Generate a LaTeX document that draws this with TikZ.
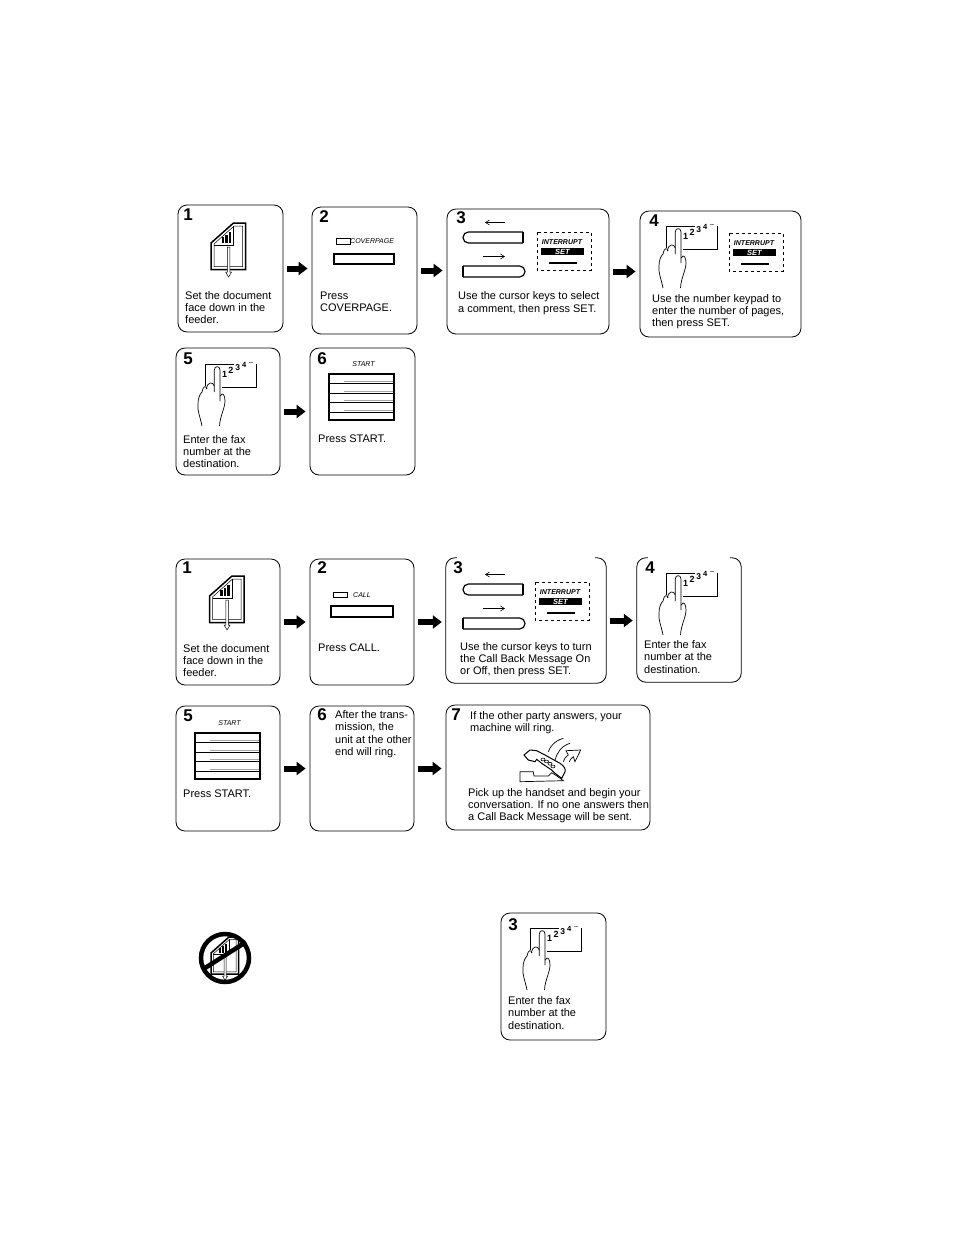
\documentclass[tikz,border=0pt]{standalone}
\usepackage{fontspec}
\setmainfont{Liberation Sans}
\usetikzlibrary{arrows.meta, calc}

\tikzset{
	stepbox/.style = {draw, line width = 0.8pt, rounded corners = 9pt, inner sep = 0pt},
	openbox/.style = {inner sep = 0pt},
	stepnum/.style = {font = \fontsize{17}{17}\selectfont\bfseries, inner sep = 0pt},
	steptext/.style = {font = \fontsize{11}{12.3}\selectfont, align = left, anchor = west, inner sep = 0pt},
	keylabel/.style = {font = \fontsize{7}{7}\selectfont\itshape, inner sep = 0pt},
	padnum/.style = {inner sep = 0pt},
	flowarrow/.style = {-{Triangle[length = 9pt, width = 13pt]}, line width = 6pt, shorten < = 4pt, shorten > = 4pt},
	thinarrow/.style = {-{Straight Barb[length = 4pt, width = 5pt]}, line width = 0.6pt},
	docicon/.pic = {
		\draw[line width = 1.5pt, fill = white] (0, 20) -- (22.5, 0) -- (34.5, 0) -- (34.5, 46.5) -- (0, 46.5) -- cycle;
		\draw[line width = 0.5pt] (3, 21) -- (23, 3) -- (31.5, 3) -- (31.5, 43.5) -- (3, 43.5) -- cycle;
		\draw[line width = 0.5pt] (3, 22) -- (22.5, 22) -- (22.5, 3);
		\foreach \x/\y in {10.5/14, 14/11.5, 17.5/9} {
				\fill (\x, \y) rectangle ++(2.6, 19.5 - \y);
			}
		\draw[line width = 0.5pt, fill = white] (16.4, 24) -- (18.8, 24) -- (18.8, 49) -- (20.6, 49) -- (17.6, 54) -- (14.6, 49) -- (16.4, 49) -- cycle;
	},
	handpad/.pic = {
		\draw[line width = 0.7pt] (0, 22) -- (0, 0) -- (29, 0);
		\draw[line width = 0.7pt] (51, 0) -- (51, 23) -- (17, 23);
		\draw[line width = 0.7pt] (-3, 62) .. controls (-5, 52) and (-8, 46) .. (-7, 40) .. controls (-7, 34) and (-5, 30) .. (-3, 28) .. controls (-2, 22) and (1, 21) .. (2, 25);
		\draw[line width = 0.7pt] (1.5, 25) .. controls (2, 18) and (8, 17) .. (9.3, 22);
		\draw[line width = 0.7pt, fill = white] (9.3, 28) -- (9.3, 6) .. controls (9.3, 1.5) and (15, 1.5) .. (15, 6) -- (15, 37);
		\draw[line width = 0.7pt] (15, 32) .. controls (18, 27) and (20, 32) .. (20, 37) .. controls (20, 44) and (15, 52) .. (14.5, 62);
		\node[padnum, font = \fontsize{9}{9}\selectfont\bfseries] (one) at (19.7, 10) {1};
		\node[padnum, font = \fontsize{9}{9}\selectfont\bfseries] (two) at (26, 6.5) {2};
		\node[padnum, font = \fontsize{8.5}{8}\selectfont\bfseries] (three) at (32.7, 3.3) {3};
		\node[padnum, font = \fontsize{7.5}{7}\selectfont\bfseries] (four) at (39.3, 1.2) {4};
		\node[padnum, font = \fontsize{7}{6}\selectfont\bfseries] (more) at (46, -1) {..};
	},
	setpanel/.pic = {
		\draw[dashed, line width = 0.7pt] (0, 0) rectangle (54, 38);
		\node[keylabel, font = \fontsize{7}{7}\selectfont\itshape\bfseries] (interrupt) at (25, 10) {INTERRUPT};
		\node[keylabel, font = \fontsize{7.5}{7}\selectfont\itshape\bfseries, text = white, fill = black, minimum width = 43pt, minimum height = 7.5pt] (setkey) at (25.5, 19.5) {SET};
		\fill (12, 29.5) rectangle (40, 32);
	},
	cursorkeys/.pic = {
		\draw[line width = 1.2pt, rounded corners = 5.4pt] (60, 0) -- (0, 0) -- (0, 11) -- (60, 11);
		\draw[line width = 1.2pt] (60, 0) -- (60, 11);
		\draw[line width = 1.2pt, rounded corners = 5.4pt] (0, 34) -- (62, 34) -- (62, 45) -- (0, 45);
		\draw[line width = 1.2pt] (0, 34) -- (0, 45);
		\draw[thinarrow] (42, -9.5) -- (22, -9.5);
		\draw[thinarrow] (20, 24.5) -- (42, 24.5);
	},
	startkey/.pic = {
		\node[keylabel] (startname) at (34.5, -10) {START};
		\foreach \y in {9, 19, 28, 38} {
				\draw[gray!70, line width = 1pt] (15, \y - 1.7) -- (65, \y - 1.7);
				\draw[line width = 0.6pt] (0, \y) -- (65, \y);
			}
		\draw[line width = 1.5pt] (0, 0) rectangle (65, 46);
	},
	handset/.pic = {
		\draw[line width = 0.7pt] (0, 36.7) -- (13.3, 36.7) -- (14, 41) -- (28.3, 41) -- (31.7, 37.7) -- (38, 41.7) -- (43.3, 45.7) -- (0, 46.7) -- cycle;
		\draw[line width = 1pt, fill = white] (4, 20) -- (10, 15) -- (16.7, 15.7) -- (25, 20) -- (40, 28.3) .. controls (44, 31) and (46, 34) .. (45, 36.7) -- (41.7, 43.3) -- (35, 38.3) -- (31.7, 35) -- (21.7, 28.3) -- (16.7, 24.3) -- (15, 26.7) -- (8.3, 25) -- cycle;
		\foreach \x/\y in {23/24.5, 26.5/26.5, 30/28.7, 33/31.5} {
				\draw[line width = 0.6pt] (\x, \y) ellipse (2pt and 1.4pt);
			}
		\draw[line width = 0.7pt] (28.3, 16.7) .. controls (30, 12) and (34, 6) .. (43.3, 3.3);
		\draw[line width = 0.7pt] (35, 25) .. controls (37, 18) and (41, 11) .. (50, 8.3);
		\draw[line width = 0.7pt] (43.3, 26.7) .. controls (44, 24) and (46, 21) .. (48.3, 20) -- (46, 15.7) -- (60.7, 15) -- (55, 26.7) -- (53.3, 21.7) .. controls (51, 23) and (50, 25) .. (49.3, 26.7);
	},
}

\begin{document}
\begin{tikzpicture}[x = 1pt, y = -1pt]
	\useasboundingbox (0, 0) rectangle (954, 1235);

	% first procedure
	\node[stepbox, minimum width = 105pt, minimum height = 127pt] (a1) at (230.5, 268.5) {};
	\node[stepbox, minimum width = 105pt, minimum height = 127pt] (a2) at (364.5, 270.5) {};
	\node[stepbox, minimum width = 162pt, minimum height = 125pt] (a3) at (528, 271.5) {};
	\node[stepbox, minimum width = 161pt, minimum height = 126pt] (a4) at (720.5, 274) {};
	\node[stepbox, minimum width = 104pt, minimum height = 127pt] (a5) at (228, 411.5) {};
	\node[stepbox, minimum width = 105pt, minimum height = 127pt] (a6) at (362.5, 411.5) {};

	\node[stepnum] (a1n) at (188, 215) {1};
	\node[stepnum] (a2n) at (324, 217) {2};
	\node[stepnum] (a3n) at (461, 218) {3};
	\node[stepnum] (a4n) at (654, 221) {4};
	\node[stepnum] (a5n) at (188, 359) {5};
	\node[stepnum] (a6n) at (322, 359) {6};

	\node[steptext] (a1t) at (185, 307.5) {Set the document\\face down in the\\feeder.};
	\node[steptext] (a2t) at (320, 301.5) {Press\\COVERPAGE.};
	\node[steptext] (a3t) at (458, 303) {Use the cursor keys to select\\a comment, then press SET.};
	\node[steptext] (a4t) at (652, 311.5) {Use the number keypad to\\enter the number of pages,\\then press SET.};
	\node[steptext] (a5t) at (183, 451.5) {Enter the fax\\number at the\\destination.};
	\node[steptext] (a6t) at (318, 439) {Press START.};

	\pic at (211, 223) {docicon};
	\draw[line width = 0.6pt] (336, 238) rectangle (350, 244);
	\node[keylabel, anchor = west] (a2k) at (350, 241.5) {COVERPAGE};
	\draw[line width = 1.2pt] (334, 254) rectangle (394, 264);
	\pic at (463, 232) {cursorkeys};
	\pic at (537, 232) {setpanel};
	\pic at (666, 226) {handpad};
	\pic at (729, 233) {setpanel};
	\pic at (205, 364) {handpad};
	\pic at (329, 374) {startkey};

	\draw[flowarrow] (a1.east) -- (a1.east -| a2.west);
	\draw[flowarrow] (a2.east) -- (a2.east -| a3.west);
	\draw[flowarrow] (a3.east) -- (a3.east -| a4.west);
	\draw[flowarrow] (a5.east) -- (a5.east -| a6.west);

	% second procedure
	\node[stepbox, minimum width = 104pt, minimum height = 126pt] (b1) at (228, 622) {};
	\node[stepbox, minimum width = 104pt, minimum height = 126pt] (b2) at (362, 622) {};
	\node[openbox, minimum width = 160pt, minimum height = 125pt] (b3) at (526, 620.5) {};
	\node[openbox, minimum width = 104pt, minimum height = 124pt] (b4) at (689, 620) {};
	\node[stepbox, minimum width = 104pt, minimum height = 125pt] (b5) at (228, 768.5) {};
	\node[stepbox, minimum width = 104pt, minimum height = 125pt] (b6) at (362, 768.5) {};
	\node[stepbox, minimum width = 204pt, minimum height = 125pt] (b7) at (548, 767.5) {};

	\foreach \n in {b3, b4} {
			\draw[line width = 0.8pt, rounded corners = 9pt] ($(\n.north west) + (11, 0)$) -- (\n.north west) -- (\n.south west) -- (\n.south east) -- (\n.north east) -- ++(-11, 0);
		}

	\node[stepnum] (b1n) at (187, 568) {1};
	\node[stepnum] (b2n) at (322, 568) {2};
	\node[stepnum] (b3n) at (458, 568) {3};
	\node[stepnum] (b4n) at (650, 568) {4};
	\node[stepnum] (b5n) at (188, 716) {5};
	\node[stepnum] (b6n) at (322, 715) {6};
	\node[stepnum] (b7n) at (456, 715) {7};

	\node[steptext] (b1t) at (183, 660.5) {Set the document\\face down in the\\feeder.};
	\node[steptext] (b2t) at (318, 648) {Press CALL.};
	\node[steptext] (b3t) at (460, 659.5) {Use the cursor keys to turn\\the Call Back Message On\\or Off, then press SET.};
	\node[steptext] (b4t) at (644, 657) {Enter the fax\\number at the\\destination.};
	\node[steptext] (b5t) at (183, 794) {Press START.};
	\node[steptext] (b6t) at (335, 734) {After the trans-\\mission, the\\unit at the other\\end will ring.};
	\node[steptext] (b7t) at (470, 722.5) {If the other party answers, your\\machine will ring.};
	\node[steptext] (b7u) at (468, 805.5) {Pick up the handset and begin your\\conversation. If no one answers then\\a Call Back Message will be sent.};

	\pic at (209.5, 576) {docicon};
	\draw[line width = 0.6pt] (333, 592) rectangle (347, 597);
	\node[keylabel, anchor = west] (b2k) at (353, 595) {CALL};
	\draw[line width = 1.2pt] (331, 606) rectangle (393, 617);
	\pic at (463, 584) {cursorkeys};
	\pic at (535, 582) {setpanel};
	\pic at (666, 573) {handpad};
	\pic at (195, 733) {startkey};
	\pic at (520, 735) {handset};

	\draw[flowarrow] (b1.east) -- (b1.east -| b2.west);
	\draw[flowarrow] (b2.east) -- (b2.east -| b3.west);
	\draw[flowarrow] (b3.east) -- (b3.east -| b4.west);
	\draw[flowarrow] (b5.east) -- (b5.east -| b6.west);
	\draw[flowarrow] (b6.east) -- (b6.east -| b7.west);

	% third part
	\pic[scale = 0.8] at (211, 937) {docicon};
	\draw[line width = 4.5pt] (225, 958) circle (24);
	\draw[line width = 4.5pt] (205, 968) -- (246, 942);

	\node[stepbox, minimum width = 105pt, minimum height = 127pt] (c3) at (553.5, 976.5) {};
	\node[stepnum] (c3n) at (513, 925) {3};
	\node[steptext] (c3t) at (508, 1013) {Enter the fax\\number at the\\destination.};
	\pic at (530, 928) {handpad};
\end{tikzpicture}
\end{document}
